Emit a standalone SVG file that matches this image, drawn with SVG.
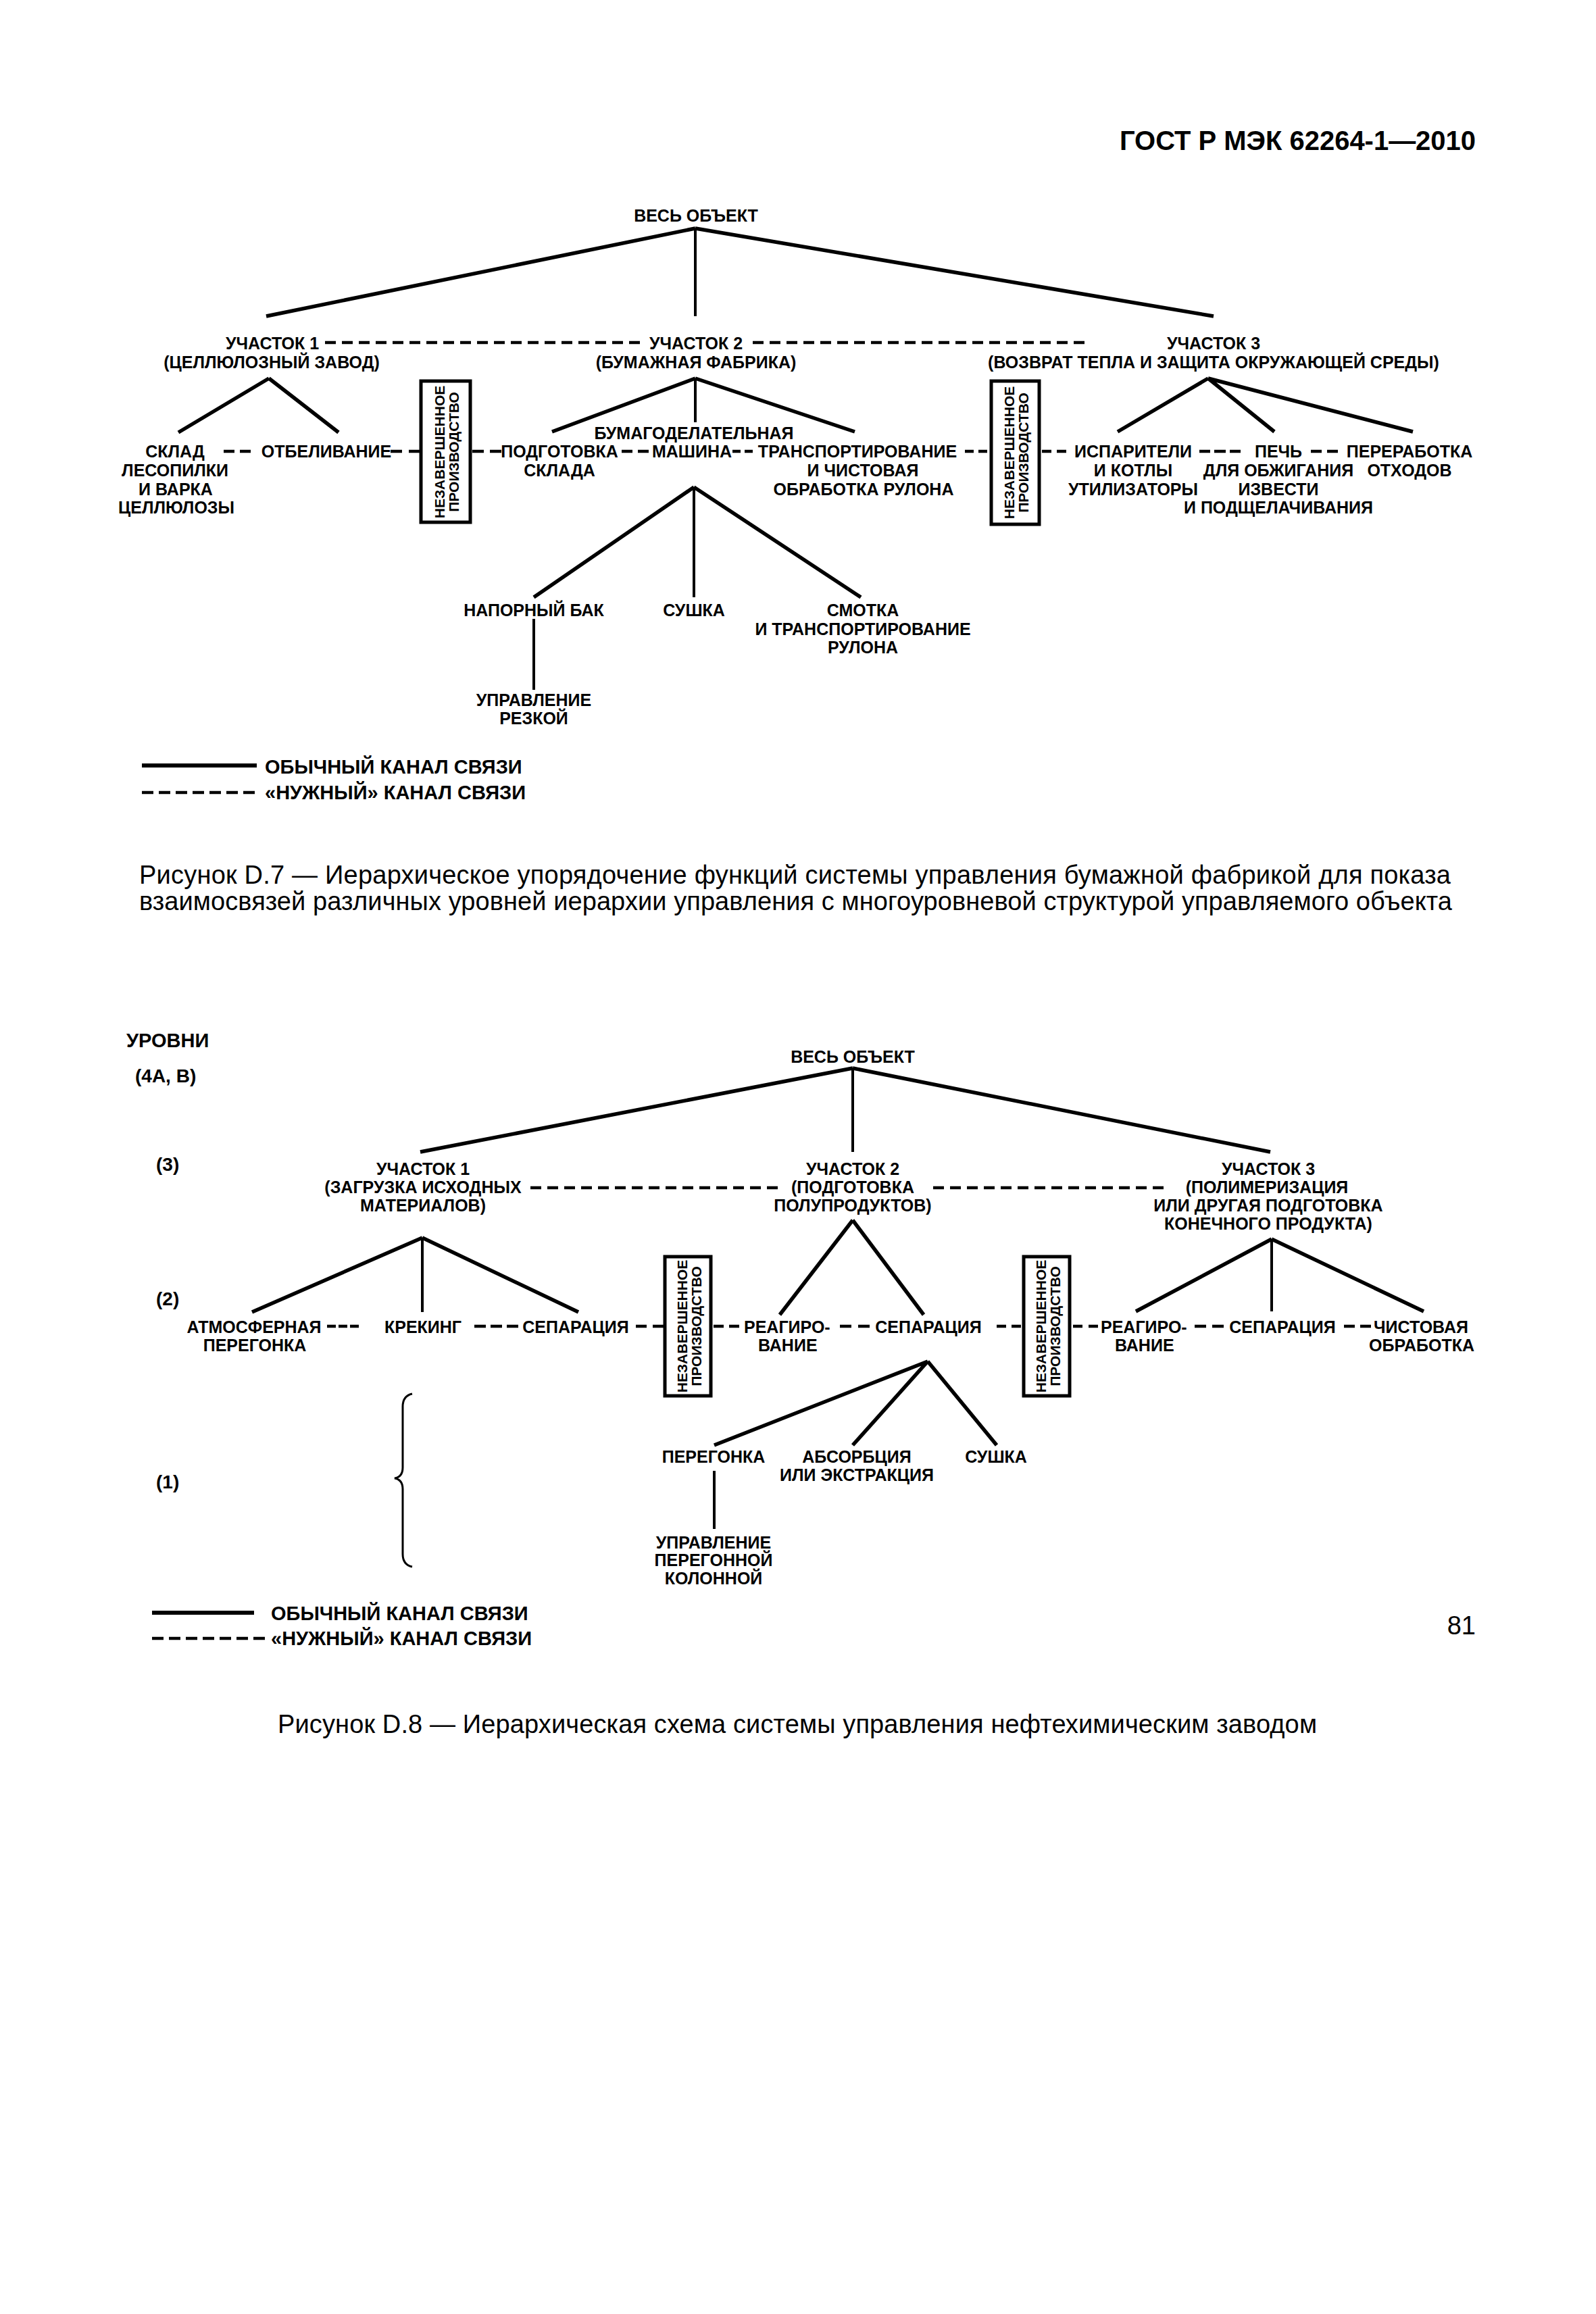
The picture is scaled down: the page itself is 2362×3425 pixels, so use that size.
<svg xmlns="http://www.w3.org/2000/svg" width="2362" height="3425" viewBox="0 0 2362 3425">
<style>
.t{font-family:"Liberation Sans",Arial,sans-serif;font-weight:bold;font-size:25px;text-anchor:middle;fill:#000}
.s{text-anchor:start}
.tb{font-size:21px}
.lg{font-size:29px;text-anchor:start}
.lv{font-size:28px;text-anchor:start}
.hd{font-size:41px;text-anchor:start}
.cap{font-weight:normal;font-size:38px;text-anchor:start}
.ln{stroke:#000;stroke-width:5.5;fill:none}
.vt{stroke:#000;stroke-width:4;fill:none}
.ds{stroke:#000;stroke-width:4.5;fill:none}
.dl{stroke-dasharray:16 9}
.dg{stroke-dasharray:17 8}
.box{fill:#fff;stroke:#000;stroke-width:5}
.lgs{stroke:#000;stroke-width:6;fill:none}
</style>
<rect x="0" y="0" width="2362" height="3425" fill="#fff"/>

<text class="t hd" x="1657" y="222" textLength="527" lengthAdjust="spacingAndGlyphs">ГОСТ Р МЭК 62264-1—2010</text>

<!-- ================= Figure D.7 ================= -->
<g id="connectors-d7">
<path class="ln" d="M1029 338L394 468M1029 338L1796 468"/>
<path class="vt" d="M1029 338V468"/>
<path class="ln" d="M398 560L264 640M398 560L501 640"/>
<path class="ln" d="M1029 560L817 639M1029 560L1265 639"/>
<path class="vt" d="M1029 560V625"/>
<path class="ln" d="M1788 560L1654 639M1788 560L1886 639M1788 560L2091 639"/>
<path class="ln" d="M1027 721L790 884M1027 721L1274 884"/>
<path class="vt" d="M1027 721V884M790 916V1021"/>
<path class="ds dl" d="M481 507H947M1114 507H1605"/>
<path class="ds" d="M331 668h16M355 668h16M578 668h17M605 668h17M699 668h17M725 668h17M920 668h16M944 668h16M1084 668h12M1102 668h12M1428 668h13M1448 668h13M1542 668h14M1564 668h14M1775 668h16M1797 668h17M1820 668h16M1940 668h16M1964 668h16"/>
</g>

<g id="d7-whole"><text class="t" x="1030" y="328">ВЕСЬ ОБЪЕКТ</text></g>
<g id="d7-area1"><text class="t" x="403" y="517">УЧАСТОК 1</text><text class="t" x="402" y="545">(ЦЕЛЛЮЛОЗНЫЙ ЗАВОД)</text></g>
<g id="d7-area2"><text class="t" x="1030" y="517">УЧАСТОК 2</text><text class="t" x="1030" y="545">(БУМАЖНАЯ ФАБРИКА)</text></g>
<g id="d7-area3"><text class="t" x="1796" y="517">УЧАСТОК 3</text><text class="t" x="1796" y="545">(ВОЗВРАТ ТЕПЛА И ЗАЩИТА ОКРУЖАЮЩЕЙ СРЕДЫ)</text></g>
<g id="d7-sklad"><text class="t" x="259" y="677">СКЛАД</text><text class="t" x="259" y="705">ЛЕСОПИЛКИ</text><text class="t" x="260" y="733">И ВАРКА</text><text class="t" x="261" y="760">ЦЕЛЛЮЛОЗЫ</text></g>
<g id="d7-otbel"><text class="t" x="483" y="677">ОТБЕЛИВАНИЕ</text></g>
<g id="d7-wip1"><rect class="box" x="623" y="564" width="73" height="209"/><text class="t tb" transform="translate(660,669) rotate(-90)"><tspan x="0" y="-2">НЕЗАВЕРШЕННОЕ</tspan><tspan x="0" y="19">ПРОИЗВОДСТВО</tspan></text></g>
<g id="d7-podg"><text class="t" x="828" y="677">ПОДГОТОВКА</text><text class="t" x="828" y="705">СКЛАДА</text></g>
<g id="d7-mash"><text class="t" x="1027" y="650">БУМАГОДЕЛАТЕЛЬНАЯ</text><text class="t" x="1024" y="677">МАШИНА</text></g>
<g id="d7-transp"><text class="t" x="1269" y="677">ТРАНСПОРТИРОВАНИЕ</text><text class="t" x="1277" y="705">И ЧИСТОВАЯ</text><text class="t" x="1278" y="733">ОБРАБОТКА РУЛОНА</text></g>
<g id="d7-wip2"><rect class="box" x="1467" y="564" width="71" height="212"/><text class="t tb" transform="translate(1503,670) rotate(-90)"><tspan x="0" y="-2">НЕЗАВЕРШЕННОЕ</tspan><tspan x="0" y="19">ПРОИЗВОДСТВО</tspan></text></g>
<g id="d7-isp"><text class="t" x="1677" y="677">ИСПАРИТЕЛИ</text><text class="t" x="1677" y="705">И КОТЛЫ</text><text class="t" x="1677" y="733">УТИЛИЗАТОРЫ</text></g>
<g id="d7-pech"><text class="t" x="1892" y="677">ПЕЧЬ</text><text class="t" x="1892" y="705">ДЛЯ ОБЖИГАНИЯ</text><text class="t" x="1892" y="733">ИЗВЕСТИ</text><text class="t" x="1892" y="760">И ПОДЩЕЛАЧИВАНИЯ</text></g>
<g id="d7-perer"><text class="t" x="2086" y="677">ПЕРЕРАБОТКА</text><text class="t" x="2086" y="705">ОТХОДОВ</text></g>
<g id="d7-bak"><text class="t" x="790" y="912">НАПОРНЫЙ БАК</text></g>
<g id="d7-sushka"><text class="t" x="1027" y="912">СУШКА</text></g>
<g id="d7-smotka"><text class="t" x="1277" y="912">СМОТКА</text><text class="t" x="1277" y="940">И ТРАНСПОРТИРОВАНИЕ</text><text class="t" x="1277" y="967">РУЛОНА</text></g>
<g id="d7-rezka"><text class="t" x="790" y="1045">УПРАВЛЕНИЕ</text><text class="t" x="790" y="1072">РЕЗКОЙ</text></g>
<g id="d7-legend">
<path class="lgs" d="M210 1133H380"/>
<path class="ds dg" d="M210 1173H377"/>
<text class="t lg" x="392" y="1145">ОБЫЧНЫЙ КАНАЛ СВЯЗИ</text>
<text class="t lg" x="392" y="1183">«НУЖНЫЙ» КАНАЛ СВЯЗИ</text>
</g>

<text class="t cap" x="206" y="1308" textLength="1941" lengthAdjust="spacing">Рисунок D.7 — Иерархическое упорядочение функций системы управления бумажной фабрикой для показа</text>
<text class="t cap" x="206" y="1347" textLength="1943" lengthAdjust="spacing">взаимосвязей различных уровней иерархии управления с многоуровневой структурой управляемого объекта</text>

<!-- ================= Figure D.8 ================= -->
<g id="d8-levels">
<text class="t lg" x="187" y="1550">УРОВНИ</text>
<text class="t lv" x="200" y="1602">(4А, В)</text>
<text class="t lv" x="231" y="1733">(3)</text>
<text class="t lv" x="231" y="1932">(2)</text>
<text class="t lv" x="231" y="2203">(1)</text>
<path class="vt" style="stroke-width:3" d="M610 2063Q596 2066 596 2082V2172Q596 2186 584 2188Q596 2190 596 2204V2300Q596 2316 610 2319"/>
</g>

<g id="connectors-d8">
<path class="ln" d="M1262 1581L622 1705M1262 1581L1880 1705"/>
<path class="vt" d="M1262 1581V1705"/>
<path class="ln" d="M625 1832L373 1942M625 1832L856 1942"/>
<path class="vt" d="M625 1832V1942"/>
<path class="ln" d="M1262 1806L1154 1946M1262 1806L1367 1946"/>
<path class="ln" d="M1882 1834L1681 1941M1882 1834L2107 1941"/>
<path class="vt" d="M1882 1834V1941"/>
<path class="ln" d="M1373 2015L1057 2139M1373 2015L1262 2139M1373 2015L1475 2139"/>
<path class="vt" d="M1057 2177V2263"/>
<path class="ds dl" d="M785 1758H1151M1381 1758H1722"/>
<path class="ds" d="M484 1963h13M501 1963h13M518 1963h13M702 1963h17M726 1963h17M750 1963h17M941 1963h16M966 1963h16M1056 1963h15M1079 1963h15M1243 1963h17M1270 1963h17M1475 1963h14M1497 1963h14M1588 1963h14M1611 1963h14M1768 1963h17M1794 1963h17M1989 1963h16M2013 1963h16"/>
</g>

<g id="d8-whole"><text class="t" x="1262" y="1573">ВЕСЬ ОБЪЕКТ</text></g>
<g id="d8-area1"><text class="t" x="626" y="1739">УЧАСТОК 1</text><text class="t" x="626" y="1766">(ЗАГРУЗКА ИСХОДНЫХ</text><text class="t" x="626" y="1793">МАТЕРИАЛОВ)</text></g>
<g id="d8-area2"><text class="t" x="1262" y="1739">УЧАСТОК 2</text><text class="t" x="1262" y="1766">(ПОДГОТОВКА</text><text class="t" x="1262" y="1793">ПОЛУПРОДУКТОВ)</text></g>
<g id="d8-area3"><text class="t" x="1877" y="1739">УЧАСТОК 3</text><text class="t" x="1875" y="1766">(ПОЛИМЕРИЗАЦИЯ</text><text class="t" x="1877" y="1793">ИЛИ ДРУГАЯ ПОДГОТОВКА</text><text class="t" x="1877" y="1820">КОНЕЧНОГО ПРОДУКТА)</text></g>
<g id="d8-atm"><text class="t" x="376" y="1973">АТМОСФЕРНАЯ</text><text class="t" x="377" y="2000">ПЕРЕГОНКА</text></g>
<g id="d8-krek"><text class="t" x="626" y="1973">КРЕКИНГ</text></g>
<g id="d8-sep1"><text class="t" x="852" y="1973">СЕПАРАЦИЯ</text></g>
<g id="d8-wip1"><rect class="box" x="984" y="1860" width="68" height="206"/><text class="t tb" transform="translate(1019,1963) rotate(-90)"><tspan x="0" y="-2">НЕЗАВЕРШЕННОЕ</tspan><tspan x="0" y="19">ПРОИЗВОДСТВО</tspan></text></g>
<g id="d8-reag2"><text class="t s" x="1101" y="1973">РЕАГИРО-</text><text class="t s" x="1122" y="2000">ВАНИЕ</text></g>
<g id="d8-sep2"><text class="t" x="1374" y="1973">СЕПАРАЦИЯ</text></g>
<g id="d8-wip2"><rect class="box" x="1515" y="1860" width="68" height="206"/><text class="t tb" transform="translate(1550,1963) rotate(-90)"><tspan x="0" y="-2">НЕЗАВЕРШЕННОЕ</tspan><tspan x="0" y="19">ПРОИЗВОДСТВО</tspan></text></g>
<g id="d8-reag3"><text class="t s" x="1629" y="1973">РЕАГИРО-</text><text class="t s" x="1650" y="2000">ВАНИЕ</text></g>
<g id="d8-sep3"><text class="t" x="1898" y="1973">СЕПАРАЦИЯ</text></g>
<g id="d8-chist"><text class="t" x="2103" y="1973">ЧИСТОВАЯ</text><text class="t" x="2104" y="2000">ОБРАБОТКА</text></g>
<g id="d8-peregonka"><text class="t" x="1056" y="2165">ПЕРЕГОНКА</text></g>
<g id="d8-absorb"><text class="t" x="1268" y="2165">АБСОРБЦИЯ</text><text class="t" x="1268" y="2192">ИЛИ ЭКСТРАКЦИЯ</text></g>
<g id="d8-sushka"><text class="t" x="1474" y="2165">СУШКА</text></g>
<g id="d8-upr"><text class="t" x="1056" y="2292">УПРАВЛЕНИЕ</text><text class="t" x="1056" y="2318">ПЕРЕГОННОЙ</text><text class="t" x="1056" y="2345">КОЛОННОЙ</text></g>
<g id="d8-legend">
<path class="lgs" d="M225 2387H376"/>
<path class="ds dg" d="M225 2425H392"/>
<text class="t lg" x="401" y="2398">ОБЫЧНЫЙ КАНАЛ СВЯЗИ</text>
<text class="t lg" x="401" y="2435">«НУЖНЫЙ» КАНАЛ СВЯЗИ</text>
</g>

<text class="t cap" x="411" y="2565" textLength="1538" lengthAdjust="spacing">Рисунок D.8 — Иерархическая схема системы управления нефтехимическим заводом</text>

<text class="t cap" x="2184" y="2419" style="text-anchor:end">81</text>
</svg>
